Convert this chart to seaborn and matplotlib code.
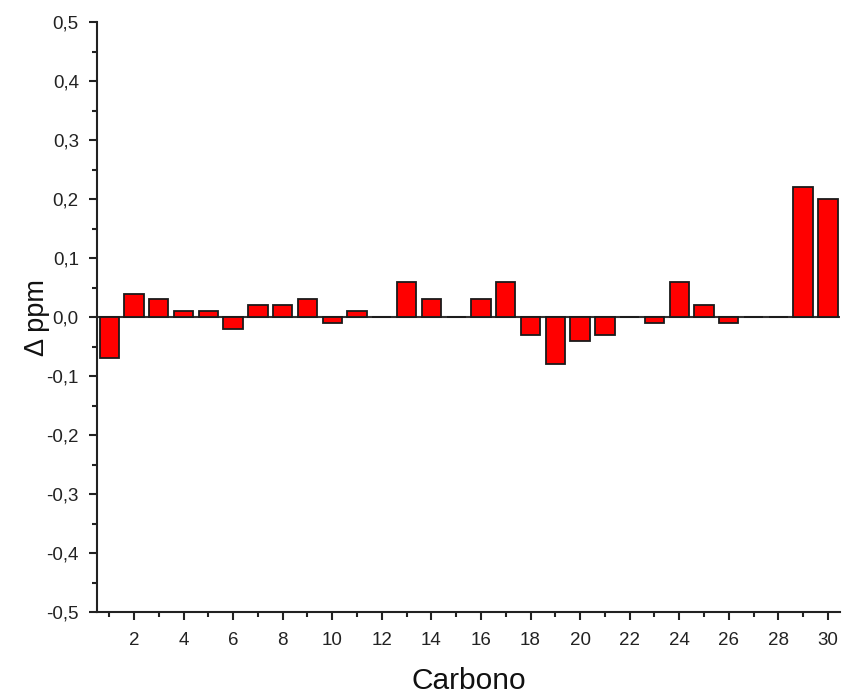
import matplotlib
matplotlib.use("Agg")
import matplotlib.pyplot as plt
from matplotlib.ticker import MultipleLocator, FuncFormatter
import seaborn as sns
import pandas as pd

carbono = list(range(1, 31))
delta_ppm = [-0.07, 0.04, 0.03, 0.01, 0.01, -0.02, 0.02, 0.02, 0.03, -0.01,
             0.01, 0.0, 0.06, 0.03, 0.0, 0.03, 0.06, -0.03, -0.08, -0.04,
             -0.03, 0.0, -0.01, 0.06, 0.02, -0.01, 0.0, 0.0, 0.22, 0.20]

sns.set_theme(style="ticks")
plt.rcParams['font.family'] = ['Liberation Sans', 'DejaVu Sans']

df = pd.DataFrame({"Carbono": carbono, "delta": delta_ppm})

fig = plt.figure(figsize=(8.42, 6.94), dpi=100)
ax = fig.add_axes([0.115, 0.118, 0.883, 0.850])

ax.axhline(0, color="#333333", lw=1.5, zorder=1)
sns.barplot(data=df, x="Carbono", y="delta", native_scale=True, width=0.78,
            color="#ff0000", saturation=1, edgecolor="#1a1a1a", linewidth=1.3,
            ax=ax, zorder=2)

ax.set_xlim(0.5, 30.5)
ax.set_ylim(-0.5, 0.5)
ax.xaxis.set_major_locator(MultipleLocator(2))
ax.xaxis.set_minor_locator(MultipleLocator(1))
ax.yaxis.set_major_locator(MultipleLocator(0.1))
ax.yaxis.set_minor_locator(MultipleLocator(0.05))
ax.yaxis.set_major_formatter(FuncFormatter(lambda v, p: f"{v:.1f}".replace(".", ",").replace("-0,0", "0,0")))
ax.xaxis.set_major_formatter(FuncFormatter(lambda v, p: f"{int(round(v))}"))

for s in ["top", "right"]:
    ax.spines[s].set_visible(False)
for s in ["left", "bottom"]:
    ax.spines[s].set_linewidth(1.5)
    ax.spines[s].set_color("#222222")

ax.tick_params(axis="both", which="major", direction="out", length=6, width=1.5,
               colors="#222222", labelsize=13.5, labelcolor="#222222")
ax.tick_params(axis="both", which="minor", direction="out", length=3.5, width=1.5,
               colors="#222222")
ax.tick_params(axis="x", pad=8)
ax.tick_params(axis="y", pad=7)

ax.set_xlabel("Carbono", fontsize=21.5, labelpad=13, color="#111111")
ax.set_ylabel("Δ ppm", fontsize=19.5, labelpad=-3, color="#111111")

fig.savefig("out.png", dpi=100)
